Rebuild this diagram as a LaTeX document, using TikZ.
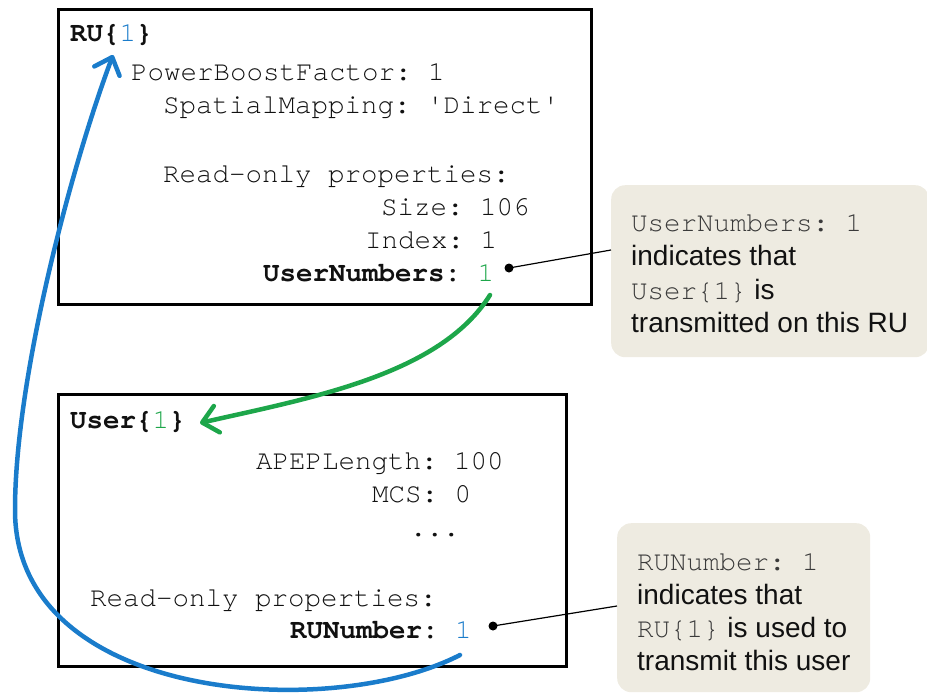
\documentclass[tikz,border=0pt]{standalone}
\usepackage{fontspec}
\setmainfont{Liberation Sans}
\setmonofont{TeX Gyre Cursor}
\usetikzlibrary{arrows.meta}
\definecolor{mblue}{HTML}{1A7CCB}
\definecolor{mgreen}{HTML}{1DA64A}
\definecolor{callfill}{HTML}{EEEBE1}
\definecolor{txt}{HTML}{111111}
\definecolor{calltt}{HTML}{3A3A3A}
\begin{document}
\begin{tikzpicture}[x=1pt,y=-1pt,
  mono/.style={font=\ttfamily\fontsize{27.5}{33}\selectfont, text=txt, inner sep=0pt, anchor=base west},
  sans/.style={font=\fontsize{28}{33}\selectfont, text=txt, inner sep=0pt, anchor=base west},
  objbox/.style={draw=black, line width=3pt, fill=white, inner sep=0pt, anchor=north west},
  callout/.style={fill=callfill, draw=none, rounded corners=14pt, inner sep=0pt, anchor=north west},
  pointer/.style={draw=black, line width=1.2pt},
  pdot/.style={fill=black, circle, inner sep=0pt, minimum size=9pt},
  linkarrow/.style={line width=4.5pt, line cap=round, -{Straight Barb[length=15pt,width=27pt,round]}},
]
\useasboundingbox (0,0) rectangle (927,694);

% object boxes
\node[objbox, minimum width=533pt, minimum height=295pt] (rubox) at (57,8) {};
\node[objbox, minimum width=508pt, minimum height=272pt] (userbox) at (57,393) {};

% callouts
\node[callout, minimum width=318pt, minimum height=172pt] (call1) at (611,185) {};
\node[callout, minimum width=253pt, minimum height=169pt] (call2) at (617,523) {};

% RU box text
\node[mono] (rutitle) at (70,41) {\bfseries RU\{\mdseries\textcolor{mblue}{1}\bfseries\}};
\node[mono] (pbf) at (131,80) {PowerBoostFactor: 1};
\node[mono] (spm) at (163,113) {SpatialMapping: 'Direct'};
\node[mono] (ro1) at (163,182) {Read-only properties:};
\node[mono] (size) at (381,215) {Size: 106};
\node[mono] (index) at (365,248) {Index: 1};
\node[mono] (usernum) at (263,281) {\bfseries UserNumbers: \mdseries\textcolor{mgreen}{1}};

% User box text
\node[mono] (usertitle) at (70,428) {\bfseries User\{\mdseries\textcolor{mgreen}{1}\bfseries\}};
\node[mono] (apep) at (256,469) {APEPLength: 100};
\node[mono] (mcs) at (372,502) {MCS: 0};
\node[mono] (dots) at (410,536) {...};
\node[mono] (ro2) at (90,606) {Read-only properties:};
\node[mono] (runum) at (290,638) {\bfseries RUNumber: \mdseries\textcolor{mblue}{1}};

% callout 1 text
\node[mono, text=calltt] (c1a) at (631,231) {UserNumbers: 1};
\node[sans] (c1b) at (631,265) {indicates that};
\node[sans] (c1c) at (631,299) {{\ttfamily\fontsize{27.5}{33}\selectfont\color{calltt}User\{1\}} is};
\node[sans] (c1d) at (631,332) {transmitted on this RU};

% callout 2 text
\node[mono, text=calltt] (c2a) at (637,570) {RUNumber: 1};
\node[sans] (c2b) at (637,604) {indicates that};
\node[sans] (c2c) at (637,637) {{\ttfamily\fontsize{27.5}{33}\selectfont\color{calltt}RU\{1\}} is used to};
\node[sans] (c2d) at (637,670) {transmit this user};

% pointers
\node[pdot] (dot1) at (509,268) {};
\node[pdot] (dot2) at (493,626) {};
\coordinate (c1in) at (611,250);
\coordinate (c2in) at (617,606);
\draw[pointer] (dot1.center) -- (c1in);
\draw[pointer] (dot2.center) -- (c2in);

% link arrows
\coordinate (gstart) at (490,295);
\coordinate (gtip) at (200,423);
\draw[linkarrow, mgreen] (gstart) .. controls (440,375) and (310,398) .. (gtip);

\coordinate (bstart) at (460,655);
\coordinate (bmid) at (15,510);
\coordinate (btip) at (113,55);
\draw[linkarrow, mblue] (bstart) .. controls (330,722) and (15,702) .. (bmid)
  .. controls (15,380) and (70,170) .. (btip);
\end{tikzpicture}
\end{document}
